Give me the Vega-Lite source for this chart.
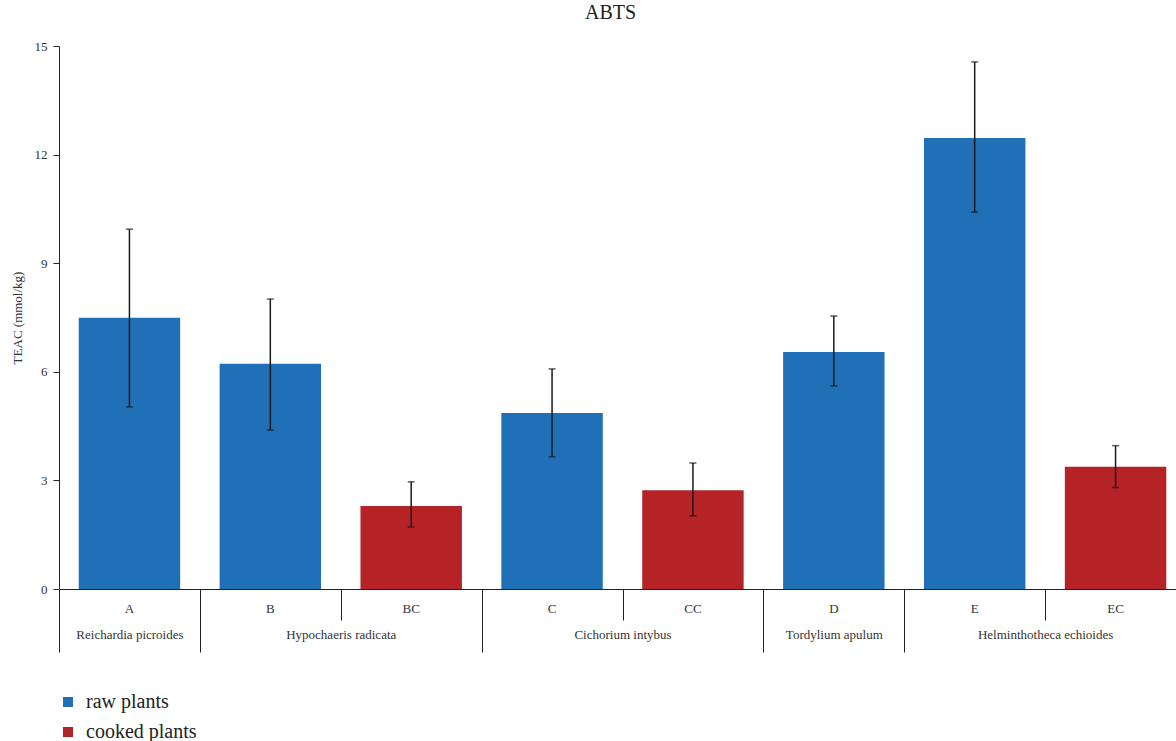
{
  "$schema": "https://vega.github.io/schema/vega-lite/v6.json",
  "width": 1117,
  "height": 543,
  "autosize": {"type": "none"},
  "padding": {"left": 59, "top": 46, "right": 0, "bottom": 152},
  "background": "white",
  "title": {"text": "ABTS", "fontSize": 20, "font": "Liberation Serif", "fontWeight": "normal", "color": "#222", "offset": 17, "dx": -7, "anchor": "middle"},
  "config": {"view": {"stroke": null}, "font": "Liberation Serif"},
  "datasets": {
    "bars": [
      {"code": "A", "plant": "Reichardia picroides", "type": "raw plants", "value": 7.49, "lo": 5.03, "hi": 9.94},
      {"code": "B", "plant": "Hypochaeris radicata", "type": "raw plants", "value": 6.22, "lo": 4.39, "hi": 8.01},
      {"code": "BC", "plant": "Hypochaeris radicata", "type": "cooked plants", "value": 2.29, "lo": 1.71, "hi": 2.96},
      {"code": "C", "plant": "Cichorium intybus", "type": "raw plants", "value": 4.86, "lo": 3.65, "hi": 6.08},
      {"code": "CC", "plant": "Cichorium intybus", "type": "cooked plants", "value": 2.73, "lo": 2.02, "hi": 3.48},
      {"code": "D", "plant": "Tordylium apulum", "type": "raw plants", "value": 6.55, "lo": 5.61, "hi": 7.54},
      {"code": "E", "plant": "Helminthotheca echioides", "type": "raw plants", "value": 12.46, "lo": 10.41, "hi": 14.56},
      {"code": "EC", "plant": "Helminthotheca echioides", "type": "cooked plants", "value": 3.38, "lo": 2.80, "hi": 3.96}
    ],
    "groups": [
      {"pos": 0, "name": "Reichardia picroides"},
      {"pos": 1.5, "name": "Hypochaeris radicata"},
      {"pos": 3.5, "name": "Cichorium intybus"},
      {"pos": 5, "name": "Tordylium apulum"},
      {"pos": 6.5, "name": "Helminthotheca echioides"}
    ]
  },
  "layer": [
    {
      "data": {"name": "bars"},
      "encoding": {
        "x": {
          "field": "code", "type": "nominal", "sort": null,
          "scale": {"range": [0, 1127], "paddingInner": 0.28, "paddingOuter": 0.14},
          "axis": {"orient": "bottom", "title": null, "domainColor": "#222", "domainWidth": 1, "ticks": false, "labelAngle": 0, "labelFontSize": 13, "labelPadding": 13, "labelColor": "#333", "labelFont": "Liberation Serif"}
        }
      },
      "layer": [
        {
          "mark": {"type": "bar"},
          "encoding": {
            "y": {"field": "value", "type": "quantitative", "title": "TEAC (mmol/kg)",
              "scale": {"domain": [0, 15], "nice": false},
              "axis": {"values": [0, 3, 6, 9, 12, 15], "grid": false, "domainColor": "#222", "tickColor": "#222", "tickSize": 6, "labelFontSize": 13, "labelPadding": 6, "labelColor": "#333", "titleFontSize": 13, "titleFontWeight": "normal", "titleColor": "#333", "titlePadding": 10, "titleFont": "Liberation Serif", "labelFont": "Liberation Serif"}
            },
            "color": {"field": "type", "type": "nominal",
              "scale": {"domain": ["raw plants", "cooked plants"], "range": ["#1f70b7", "#b52326"]},
              "legend": {"orient": "none", "legendX": -1, "legendY": 646, "title": null, "symbolType": "square", "symbolSize": 100, "labelFontSize": 20, "labelFont": "Liberation Serif", "labelColor": "#222", "rowPadding": 10, "labelOffset": 8, "symbolStrokeWidth": 0}
            }
          }
        },
        {
          "mark": {"type": "rule", "color": "#1a1a1a", "strokeWidth": 1.5},
          "encoding": {
            "y": {"field": "lo", "type": "quantitative", "title": "TEAC (mmol/kg)"},
            "y2": {"field": "hi"}
          }
        },
        {
          "mark": {"type": "tick", "color": "#1a1a1a", "size": 7, "thickness": 1.5, "orient": "horizontal"},
          "encoding": {"y": {"field": "lo", "type": "quantitative", "title": "TEAC (mmol/kg)"}}
        },
        {
          "mark": {"type": "tick", "color": "#1a1a1a", "size": 7, "thickness": 1.5, "orient": "horizontal"},
          "encoding": {"y": {"field": "hi", "type": "quantitative", "title": "TEAC (mmol/kg)"}}
        }
      ]
    },
    {
      "data": {"name": "groups"},
      "mark": {"type": "point", "opacity": 0},
      "encoding": {
        "x": {
          "field": "pos", "type": "quantitative",
          "scale": {"domain": [-0.5, 7.5], "range": [0, 1127], "nice": false, "zero": false},
          "axis": {"orient": "bottom", "title": null, "domain": false, "values": [0, 1.5, 3.5, 5, 6.5], "tickSize": 31, "tickColor": "#222", "tickWidth": 1,
            "tickOpacity": {"condition": {"test": "datum.value == 0 || datum.value == 5", "value": 0}, "value": 1},
            "labelExpr": "datum.value == 0 ? 'Reichardia picroides' : datum.value == 1.5 ? 'Hypochaeris radicata' : datum.value == 3.5 ? 'Cichorium intybus' : datum.value == 5 ? 'Tordylium apulum' : 'Helminthotheca echioides'",
            "labelFontSize": 13, "labelColor": "#333", "labelFont": "Liberation Serif", "labelPadding": 8, "labelOverlap": false, "labelFlush": false, "labelBound": false, "grid": false}
        }
      }
    },
    {
      "data": {"name": "groups"},
      "mark": {"type": "point", "opacity": 0},
      "encoding": {
        "x": {
          "field": "pos", "type": "quantitative",
          "scale": {"domain": [-0.5, 7.5], "range": [0, 1127], "nice": false, "zero": false},
          "axis": {"orient": "bottom", "title": null, "domain": false, "values": [-0.5, 0.5, 2.5, 4.5, 5.5, 7.5], "tickSize": 63, "tickColor": "#222", "tickWidth": 1, "labels": false, "grid": false}
        }
      }
    }
  ],
  "resolve": {"scale": {"x": "independent"}, "axis": {"x": "independent"}}
}
